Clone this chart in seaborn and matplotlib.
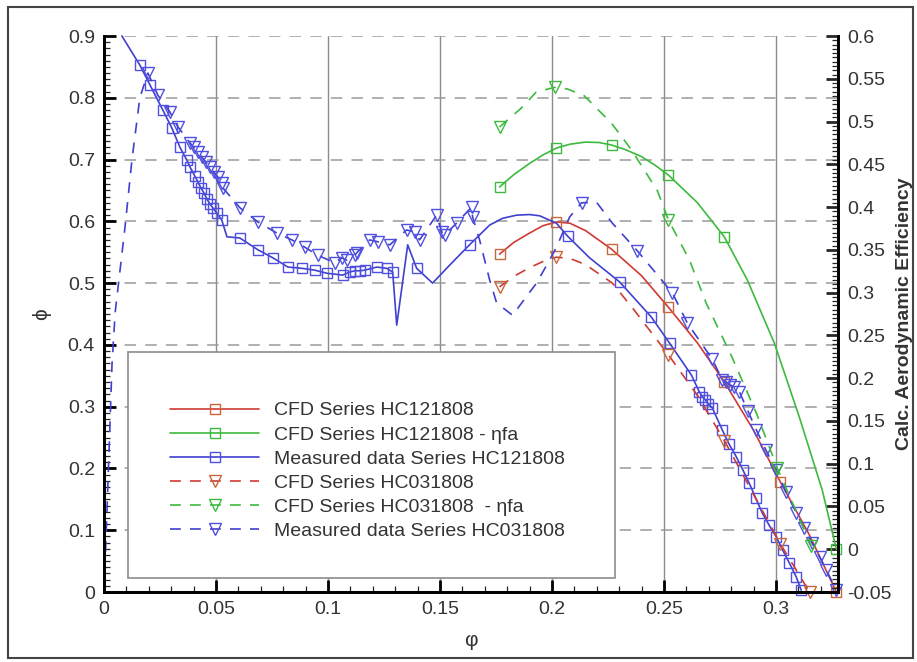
import matplotlib
matplotlib.use('Agg')
import matplotlib.pyplot as plt
import seaborn as sns
from matplotlib.lines import Line2D
from matplotlib.patches import Rectangle
from matplotlib.ticker import MultipleLocator, FormatStrFormatter

sns.set_style('ticks')
plt.rcParams['font.family'] = ['Liberation Sans', 'DejaVu Sans']

# ---- data ----
# CFD Series HC121808 (left axis)
cfd1_x = [0.1766, 0.183, 0.190, 0.196, 0.202, 0.208, 0.215, 0.2266, 0.240, 0.252,
          0.265, 0.277, 0.290, 0.302, 0.315, 0.327]
cfd1_y = [0.547, 0.566, 0.581, 0.593, 0.599, 0.597, 0.585, 0.555, 0.512, 0.461,
          0.403, 0.340, 0.262, 0.178, 0.092, 0.0]
cfd1_marks = [0.1766, 0.202, 0.2266, 0.252, 0.277, 0.302, 0.327]

# CFD Series HC121808 - eta fa (right axis)
eff1_x = [0.1766, 0.183, 0.190, 0.196, 0.202, 0.208, 0.215, 0.221, 0.2266, 0.233,
          0.240, 0.246, 0.252, 0.265, 0.277, 0.2872, 0.2993, 0.3104, 0.3207, 0.327]
eff1_y = [0.4235, 0.438, 0.451, 0.461, 0.469, 0.4735, 0.476, 0.4755, 0.4726, 0.467,
          0.459, 0.449, 0.4375, 0.405, 0.365, 0.315, 0.241, 0.155, 0.069, 0.0]
eff1_marks = [0.1766, 0.202, 0.2266, 0.252, 0.277, 0.327]

# Measured data Series HC121808 (left axis)
meas1_x = [0.008, 0.016, 0.0205, 0.0263, 0.0303, 0.0339, 0.037, 0.0384, 0.0406, 0.0419,
           0.0433, 0.0446, 0.046, 0.0473, 0.0486, 0.0504, 0.0526, 0.0549, 0.0607, 0.0687,
           0.0754, 0.0821, 0.0883, 0.0941, 0.0995, 0.1066, 0.1097, 0.112, 0.1142, 0.1164,
           0.1218, 0.1262, 0.1289, 0.1307, 0.1356, 0.1396, 0.1467, 0.1543, 0.1632, 0.1722,
           0.178, 0.1842, 0.19, 0.1945, 0.202, 0.207, 0.2168, 0.2302, 0.2444, 0.2525,
           0.2623, 0.2658, 0.2672, 0.2685, 0.2698, 0.2716, 0.2761, 0.279, 0.2823, 0.2852,
           0.2881, 0.291, 0.2939, 0.297, 0.3002, 0.303, 0.306, 0.309, 0.3113]
meas1_y = [0.900, 0.853, 0.821, 0.780, 0.751, 0.720, 0.699, 0.688, 0.673, 0.664,
           0.654, 0.646, 0.636, 0.628, 0.622, 0.613, 0.602, 0.575, 0.573, 0.554,
           0.541, 0.526, 0.524, 0.521, 0.516, 0.513, 0.518, 0.520, 0.520, 0.521,
           0.526, 0.524, 0.518, 0.432, 0.562, 0.524, 0.500, 0.529, 0.562, 0.594,
           0.605, 0.610, 0.611, 0.609, 0.597, 0.576, 0.541, 0.502, 0.445, 0.403,
           0.351, 0.324, 0.316, 0.311, 0.304, 0.298, 0.262, 0.240, 0.219, 0.198,
           0.176, 0.152, 0.128, 0.108, 0.089, 0.068, 0.047, 0.025, 0.003]
meas1_curve_only = [0.008, 0.0549, 0.1307, 0.1356, 0.1467, 0.1543, 0.1722, 0.178,
                    0.1842, 0.19, 0.1945, 0.202, 0.2168]

# CFD Series HC031808 (left axis)
cfd2_x = [0.1766, 0.183, 0.190, 0.196, 0.202, 0.208, 0.215, 0.227, 0.2368, 0.252,
          0.265, 0.277, 0.290, 0.302, 0.315]
cfd2_y = [0.494, 0.511, 0.525, 0.535, 0.542, 0.540, 0.530, 0.500, 0.456, 0.384,
          0.318, 0.245, 0.158, 0.078, 0.0]
cfd2_marks = [0.1766, 0.202, 0.252, 0.277, 0.302, 0.315]

# CFD Series HC031808 - eta fa (right axis)
eff2_x = [0.1766, 0.186, 0.193, 0.2012, 0.207, 0.2145, 0.2266, 0.2355, 0.2471, 0.252,
          0.2614, 0.269, 0.2805, 0.2913, 0.3006, 0.3158]
eff2_y = [0.4936, 0.515, 0.5345, 0.540, 0.538, 0.530, 0.498, 0.467, 0.419, 0.385,
          0.338, 0.287, 0.224, 0.159, 0.095, 0.004]
eff2_marks = [0.1766, 0.2012, 0.252, 0.3006, 0.3158]

# Measured data Series HC031808 (left axis)
meas2_x = [0.0, 0.0013, 0.0036, 0.005, 0.0094, 0.0125, 0.016, 0.0196, 0.0241, 0.0294,
           0.033, 0.0384, 0.0401, 0.0419, 0.0437, 0.0455, 0.0473, 0.049, 0.0508, 0.0526,
           0.0531, 0.0607, 0.0687, 0.0772, 0.0839, 0.0897, 0.0955, 0.103, 0.1062, 0.1084,
           0.112, 0.1128, 0.1186, 0.1222, 0.1276, 0.1351, 0.1387, 0.1409, 0.1485, 0.1508,
           0.1521, 0.1574, 0.1641, 0.1646, 0.1677, 0.1722, 0.1753, 0.1824, 0.1931, 0.1989,
           0.202, 0.2079, 0.2132, 0.2199, 0.227, 0.2382, 0.2538, 0.2605, 0.2716, 0.2761,
           0.2779, 0.2797, 0.2814, 0.2837, 0.2875, 0.2913, 0.2955, 0.3002, 0.3045, 0.3091,
           0.3125, 0.3162, 0.3195, 0.3225, 0.3269]
meas2_y = [0.0, 0.128, 0.37, 0.453, 0.591, 0.70, 0.80, 0.840, 0.804, 0.777,
           0.753, 0.727, 0.720, 0.712, 0.704, 0.696, 0.688, 0.680, 0.672, 0.662,
           0.654, 0.622, 0.599, 0.581, 0.570, 0.558, 0.545, 0.533, 0.541, 0.537,
           0.545, 0.549, 0.570, 0.567, 0.562, 0.586, 0.583, 0.570, 0.610, 0.583,
           0.578, 0.597, 0.623, 0.607, 0.570, 0.505, 0.468, 0.448, 0.500, 0.537,
           0.558, 0.607, 0.630, 0.631, 0.597, 0.552, 0.484, 0.435, 0.377, 0.343,
           0.340, 0.335, 0.332, 0.324, 0.293, 0.262, 0.230, 0.197, 0.162, 0.128,
           0.103, 0.079, 0.057, 0.036, 0.003]
meas2_curve_only = [0.0, 0.0013, 0.0036, 0.005, 0.0094, 0.0125, 0.016, 0.1677, 0.1722,
                    0.1753, 0.1824, 0.1931, 0.1989, 0.202, 0.2079, 0.2199, 0.227]

labels = ['CFD Series HC121808', 'CFD Series HC121808 - \u03b7fa',
          'Measured data Series HC121808', 'CFD Series HC031808',
          'CFD Series HC031808  - \u03b7fa', 'Measured data Series HC031808']

RED = '#d03a35'
RED_M = '#c9673c'
GREEN = '#3dba3d'
BLUE = '#4040d0'
BLUE_M = '#4f4fe0'
DASH = (0, (6.5, 5.5))

fig = plt.figure(figsize=(9.17, 6.62), dpi=100)
ax = fig.add_axes([0.1134, 0.1057, 0.8004, 0.8399])
ax2 = ax.twinx()


def draw(axis, x, y, mask, color, mcolor, ls, marker, ms):
    sns.lineplot(x=x, y=y, ax=axis, estimator=None, sort=False, color=color,
                 lw=1.2, linestyle=ls, marker=marker, markevery=mask, ms=ms,
                 mfc='none', mec=mcolor, mew=1.0, clip_on=False, legend=False)


draw(ax, cfd1_x, cfd1_y, [v in cfd1_marks for v in cfd1_x], RED, RED_M, '-', 's', 7)
draw(ax, meas1_x, meas1_y, [v not in meas1_curve_only for v in meas1_x], BLUE, BLUE_M, '-', 's', 7)
draw(ax, cfd2_x, cfd2_y, [v in cfd2_marks for v in cfd2_x], RED, RED_M, DASH, 'v', 8)
draw(ax, meas2_x, meas2_y, [v not in meas2_curve_only for v in meas2_x], BLUE, BLUE_M, DASH, 'v', 8)
draw(ax2, eff1_x, eff1_y, [v in eff1_marks for v in eff1_x], GREEN, GREEN, '-', 's', 7)
draw(ax2, eff2_x, eff2_y, [v in eff2_marks for v in eff2_x], GREEN, GREEN, DASH, 'v', 8)

# axes limits / ticks
ax.set_xlim(0, 0.3277)
ax.set_ylim(0, 0.9)
ax2.set_ylim(-0.05, 0.6)
ax.xaxis.set_major_locator(MultipleLocator(0.05))
ax.xaxis.set_minor_locator(MultipleLocator(0.01))
ax.yaxis.set_major_locator(MultipleLocator(0.1))
ax.yaxis.set_minor_locator(MultipleLocator(0.01))
ax2.yaxis.set_major_locator(MultipleLocator(0.05))
ax2.yaxis.set_minor_locator(MultipleLocator(0.005))
for a in (ax.xaxis, ax.yaxis, ax2.yaxis):
    a.set_major_formatter(FormatStrFormatter('%g'))

ax.tick_params(which='major', direction='in', length=8.5, width=2, labelsize=14,
               pad=6.5, top=False, right=False, colors='black', labelcolor='#333333')
ax.tick_params(which='minor', direction='in', length=4.3, width=0.9, top=False, right=False)
ax2.tick_params(which='major', direction='in', length=8.5, width=2, labelsize=14,
                pad=6.5, labelcolor='#333333')
ax2.tick_params(which='minor', direction='in', length=4.3, width=0.9)

for a in (ax, ax2):
    a.spines['top'].set_visible(False)
    for s in ('left', 'bottom', 'right'):
        a.spines[s].set_linewidth(2)
        a.spines[s].set_color('black')

# grid: solid verticals, dashed horizontals
ax.set_axisbelow(True)
ax.xaxis.grid(True, color='#8c8c8c', lw=1.0, ls='-')
ax.yaxis.grid(True, color='#9a9a9a', lw=1.1, ls=(0, (7.5, 6)))

ax.set_xlabel('\u03c6', fontsize=15, labelpad=9, color='#333333')
ax.set_ylabel('\u03d5', fontsize=15, labelpad=12, color='#333333')
ax2.set_ylabel('Calc. Aerodynamic Efficiency', fontsize=14, fontweight='bold',
               labelpad=3, color='#333333')

# legend box and entries
ax.add_patch(Rectangle((0.0327, 0.0252), 0.6635, 0.4065, transform=ax.transAxes,
                       facecolor='white', edgecolor='#8c8c8c', lw=1.2, zorder=1))
handles = [
    Line2D([], [], color=RED, lw=1.2, marker='s', ms=7, mfc='none', mec=RED_M),
    Line2D([], [], color=GREEN, lw=1.2, marker='s', ms=7, mfc='none', mec=GREEN),
    Line2D([], [], color=BLUE, lw=1.2, marker='s', ms=7, mfc='none', mec=BLUE_M),
    Line2D([], [], color=RED, lw=1.2, ls=DASH, marker='v', ms=8, mfc='none', mec=RED_M),
    Line2D([], [], color=GREEN, lw=1.2, ls=DASH, marker='v', ms=8, mfc='none', mec=GREEN),
    Line2D([], [], color=BLUE, lw=1.2, ls=DASH, marker='v', ms=8, mfc='none', mec=BLUE_M),
]
leg = ax2.legend(handles, labels, loc='upper left', bbox_to_anchor=(0.0899, 0.342),
                 frameon=False, fontsize=14, handlelength=4.6, handletextpad=0.75,
                 labelspacing=0.33, borderpad=0, borderaxespad=0, numpoints=1)
for t in leg.get_texts():
    t.set_color('#333333')

# outer frame
fig.add_artist(Rectangle((8 / 917, 4 / 662), 905 / 917, 651 / 662,
                         transform=fig.transFigure, fill=False, ec='#444444', lw=1.5))

fig.savefig('out.png', dpi=100)
